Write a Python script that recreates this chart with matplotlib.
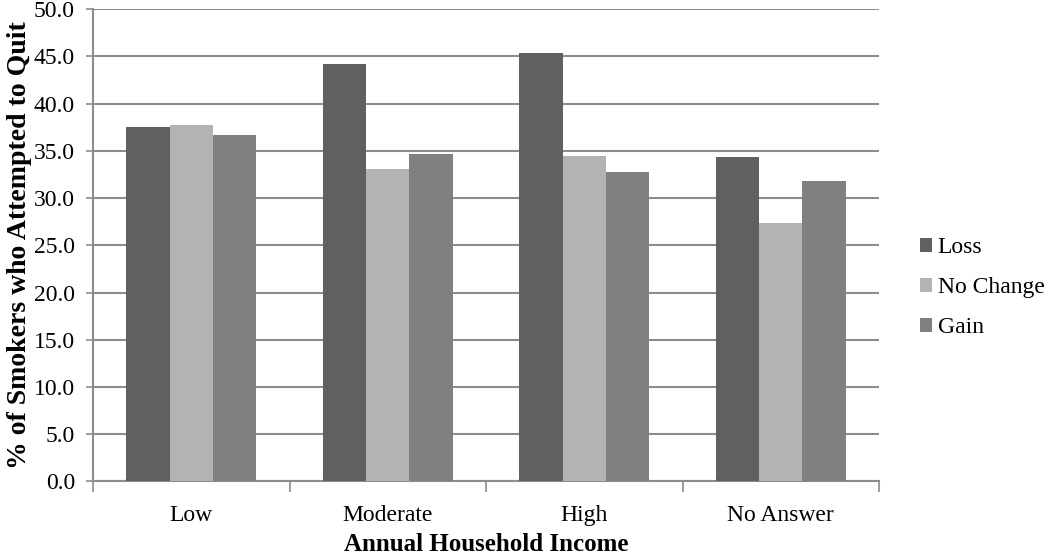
import numpy as np
import matplotlib
matplotlib.use("Agg")
import matplotlib.pyplot as plt

# data
categories = ["Low", "Moderate", "High", "No Answer"]
loss = [37.5, 44.2, 45.4, 34.4]
no_change = [37.7, 33.1, 34.5, 27.4]
gain = [36.7, 34.7, 32.8, 31.8]
series_names = ["Loss", "No Change", "Gain"]
colors = ["#606060", "#b3b3b3", "#808080"]

plt.rcParams['font.family'] = ['Liberation Serif', 'DejaVu Serif']

fig = plt.figure(figsize=(10.5, 5.56), dpi=100)
ax = fig.add_axes([0.0886, 0.1343, 0.7486, 0.849])

x = np.arange(len(categories))
w = 0.22
for i, (vals, name, c) in enumerate(zip([loss, no_change, gain], series_names, colors)):
    ax.bar(x + (i - 1) * w, vals, width=w, color=c, label=name, zorder=3)

ax.set_xlim(-0.5, len(categories) - 0.5)
ax.set_ylim(0, 50)
ax.set_yticks(np.arange(0, 50.1, 5))
ax.set_yticklabels([f"{v:.1f}" for v in np.arange(0, 50.1, 5)])
ax.yaxis.grid(True, color="#8c8c8c", linewidth=1.5, zorder=0)

# x ticks at category boundaries, labels centred
ax.set_xticks(np.arange(-0.5, len(categories)), minor=False)
ax.set_xticklabels([])
ax.set_xticks(x, minor=True)
ax.set_xticklabels(categories, minor=True)
ax.tick_params(axis="x", which="major", length=8, color="#8c8c8c", width=1.2)
ax.tick_params(axis="x", which="minor", length=0, pad=17, labelsize=17)
ax.tick_params(axis="y", length=5, color="#8c8c8c", width=1.2, labelsize=17, pad=8)

for s in ["top", "right"]:
    ax.spines[s].set_visible(False)
for s in ["left", "bottom"]:
    ax.spines[s].set_color("#8c8c8c")
    ax.spines[s].set_linewidth(1.5)

ax.set_xlabel("Annual Household Income", fontsize=18, fontweight="bold", labelpad=5)
ax.set_ylabel("% of Smokers who Attempted to Quit", fontsize=20, fontweight="bold", labelpad=1)

ax.legend(loc="center left", bbox_to_anchor=(1.052, 0.41), frameon=False, fontsize=17,
          handlelength=0.5, handleheight=0.5, handletextpad=0.25, labelspacing=0.8,
          borderpad=0, borderaxespad=0)

fig.savefig("out.png", dpi=100)
